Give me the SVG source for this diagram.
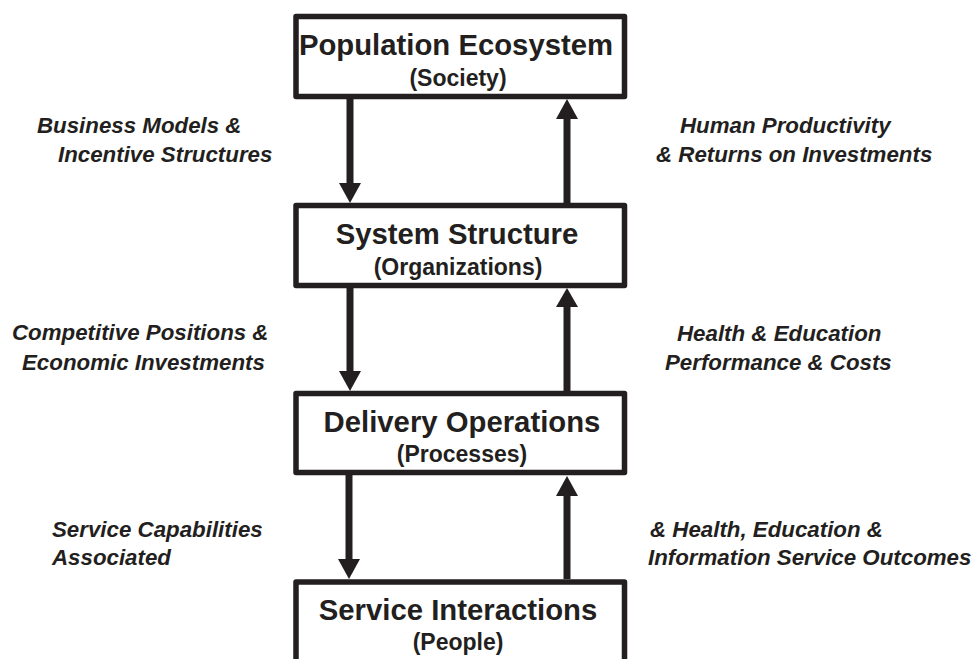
<svg xmlns="http://www.w3.org/2000/svg" width="973" height="659" viewBox="0 0 973 659">
<style>
.box{fill:#fff;stroke:#231f20;stroke-width:5.5;stroke-linejoin:round}
.t{font-family:"Liberation Sans",Arial,sans-serif;font-weight:bold;fill:#231f20;text-anchor:middle}
.m{font-size:29.3px}
.s{font-size:23px}
.lab{font-family:"Liberation Sans",Arial,sans-serif;font-weight:bold;font-style:italic;font-size:22.3px;fill:#231f20}
.sh{stroke:#231f20;stroke-width:7;fill:none}
.hd{fill:#231f20}
</style>
<rect width="973" height="659" fill="#fff"/>
<g id="connectors">
<line class="sh" x1="350" y1="99" x2="350" y2="185"/>
<polygon class="hd" points="339,183 361,183 350,203"/>
<line class="sh" x1="567" y1="203" x2="567" y2="117"/>
<polygon class="hd" points="556,119 578,119 567,99"/>
<line class="sh" x1="350" y1="288" x2="350" y2="373"/>
<polygon class="hd" points="339,371 361,371 350,391"/>
<line class="sh" x1="567" y1="391" x2="567" y2="305"/>
<polygon class="hd" points="556,307 578,307 567,288"/>
<line class="sh" x1="349" y1="475" x2="349" y2="561"/>
<polygon class="hd" points="338,559 360,559 349,579"/>
<line class="sh" x1="567" y1="579" x2="567" y2="494"/>
<polygon class="hd" points="556,496 578,496 567,476"/>
</g>
<g id="population-ecosystem">
<rect class="box" x="296" y="16.5" width="328.5" height="80"/>
<text class="t m" x="456" y="55">Population Ecosystem</text>
<text class="t s" x="458" y="86">(Society)</text>
</g>
<g id="system-structure">
<rect class="box" x="296" y="205.5" width="328.5" height="80"/>
<text class="t m" x="457" y="244">System Structure</text>
<text class="t s" x="458" y="275">(Organizations)</text>
</g>
<g id="delivery-operations">
<rect class="box" x="296" y="393.5" width="328.5" height="79"/>
<text class="t m" x="462" y="432">Delivery Operations</text>
<text class="t s" x="462" y="462">(Processes)</text>
</g>
<g id="service-interactions">
<rect class="box" x="296" y="582" width="328.5" height="90"/>
<text class="t m" x="458" y="620">Service Interactions</text>
<text class="t s" x="458" y="650">(People)</text>
</g>
<g id="labels">
<text class="lab" x="37" y="133">Business Models &amp;</text>
<text class="lab" x="58" y="162">Incentive Structures</text>
<text class="lab" x="680" y="133">Human Productivity</text>
<text class="lab" x="656" y="162">&amp; Returns on Investments</text>
<text class="lab" x="12" y="340">Competitive Positions &amp;</text>
<text class="lab" x="22" y="370">Economic Investments</text>
<text class="lab" x="677" y="341">Health &amp; Education</text>
<text class="lab" x="665" y="370">Performance &amp; Costs</text>
<text class="lab" x="52" y="537">Service Capabilities</text>
<text class="lab" x="52" y="565">Associated</text>
<text class="lab" x="650" y="537">&amp; Health, Education &amp;</text>
<text class="lab" x="648" y="565">Information Service Outcomes</text>
</g>
</svg>
